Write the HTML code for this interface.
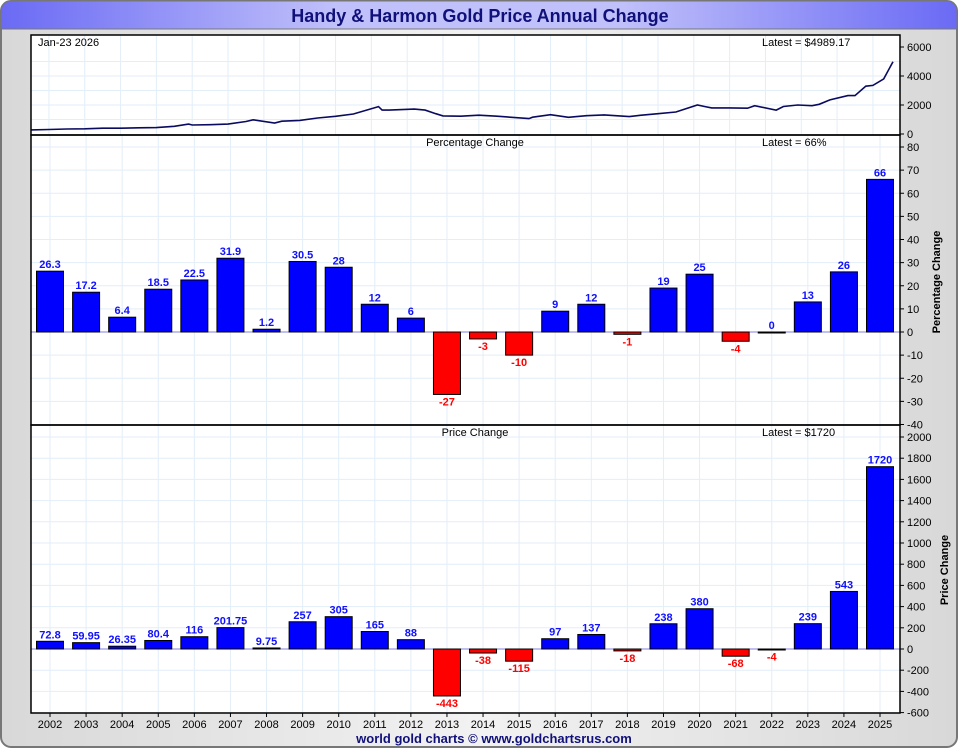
<!DOCTYPE html>
<html><head><meta charset="utf-8"><style>
body{margin:0;width:960px;height:750px;overflow:hidden;background:#fff;font-family:"Liberation Sans",sans-serif}
svg text{font-family:"Liberation Sans",sans-serif}
</style></head><body>
<svg id="c" width="960" height="750" xmlns="http://www.w3.org/2000/svg">
<defs>
<linearGradient id="tg" x1="0" x2="1"><stop offset="0" stop-color="#6a6af5"/><stop offset="0.35" stop-color="#c0c0fa"/><stop offset="0.65" stop-color="#c0c0fa"/><stop offset="1" stop-color="#6a6af5"/></linearGradient>
<linearGradient id="bg" x1="0" x2="1"><stop offset="0" stop-color="#d8d8d8"/><stop offset="0.5" stop-color="#f2f2f2"/><stop offset="1" stop-color="#d8d8d8"/></linearGradient>
</defs>
<rect x="1" y="1" width="956" height="746" rx="10" fill="url(#bg)" stroke="#777" stroke-width="2"/>
<path d="M1,29 V11 A10,10 0 0 1 11,1 H947 A10,10 0 0 1 957,11 V29 Z" fill="url(#tg)" stroke="#777"/>
<text x="480" y="22" text-anchor="middle" font-size="18" font-weight="bold" fill="#10107a">Handy &amp; Harmon Gold Price Annual Change</text>
<rect x="31" y="35" width="869" height="678" fill="#fff"/>
<g id="g"></g>
<text x="494" y="743" text-anchor="middle" font-size="13" font-weight="bold" fill="#10107a">world gold charts © www.goldchartsrus.com</text>
</svg>
<script>
const years=[2002,2003,2004,2005,2006,2007,2008,2009,2010,2011,2012,2013,2014,2015,2016,2017,2018,2019,2020,2021,2022,2023,2024,2025];
const pctChange=[26.3,17.2,6.4,18.5,22.5,31.9,1.2,30.5,28,12,6,-27,-3,-10,9,12,-1,19,25,-4,0,13,26,66];
const pctLabels=["26.3","17.2","6.4","18.5","22.5","31.9","1.2","30.5","28","12","6","-27","-3","-10","9","12","-1","19","25","-4","0","13","26","66"];
const priceChange=[72.8,59.95,26.35,80.4,116,201.75,9.75,257,305,165,88,-443,-38,-115,97,137,-18,238,380,-68,-4,239,543,1720];
const priceLabels=["72.8","59.95","26.35","80.4","116","201.75","9.75","257","305","165","88","-443","-38","-115","97","137","-18","238","380","-68","-4","239","543","1720"];
const priceTime=[2002,2002.5,2003,2003.5,2004,2004.5,2005,2005.5,2006,2006.4,2006.5,2007,2007.5,2008,2008.2,2008.8,2009,2009.5,2010,2010.5,2011,2011.7,2011.8,2012,2012.7,2013,2013.3,2013.5,2014,2014.5,2015,2015.9,2016,2016.5,2017,2017.5,2018,2018.7,2019,2019.5,2020,2020.6,2020.8,2021,2021.5,2022,2022.2,2022.8,2023,2023.4,2023.8,2024,2024.3,2024.8,2025,2025.3,2025.5,2025.8,2026.06];
const priceValue=[280,310,345,360,400,400,425,440,530,680,620,640,680,860,980,760,880,940,1100,1220,1380,1890,1650,1650,1720,1650,1400,1250,1230,1300,1230,1060,1160,1330,1150,1260,1320,1200,1290,1400,1520,2000,1900,1800,1800,1780,1950,1650,1900,2000,1950,2050,2350,2650,2650,3300,3350,3800,4989];
const pctTicks=[80,70,60,50,40,30,20,10,0,-10,-20,-30,-40];
const priceTicks=[2000,1800,1600,1400,1200,1000,800,600,400,200,0,-200,-400,-600];
const topTicks=[6000,4000,2000,0];

const g=document.getElementById('g');
const NS='http://www.w3.org/2000/svg';
function mk(t,a,p){const e=document.createElementNS(NS,t);for(const k in a)e.setAttribute(k,a[k]);(p||g).appendChild(e);return e;}
const L=31,R=900;
const xc=i=>50+i*(830/23);
const xt=t=>L+(t-2002)*(862/24.06);
const yTop=v=>134-v*(87/6000);
const yPct=v=>332-v*(185/80);
const yPrice=v=>649-v*(212/2000);

for(let i=0;i<24;i++){const l=mk('line',{x1:xt(2002.5+i),x2:xt(2002.5+i),y1:35,y2:135,stroke:'#e2eef8'});}
[1000,2000,3000,4000,5000].forEach(v=>{const l=mk('line',{x1:L,x2:R,y1:yTop(v),y2:yTop(v),stroke:'#e2eef8'});});
for(let i=0;i<24;i++){const l=mk('line',{x1:xc(i),x2:xc(i),y1:135,y2:713,stroke:'#e2eef8'});}
pctTicks.forEach(v=>{const l=mk('line',{x1:L,x2:R,y1:yPct(v),y2:yPct(v),stroke:'#e2eef8'});});
priceTicks.forEach(v=>{const l=mk('line',{x1:L,x2:R,y1:yPrice(v),y2:yPrice(v),stroke:'#e2eef8'});});

let d='';priceTime.forEach((t,i)=>{d+=(i?'L':'M')+xt(t).toFixed(1)+','+yTop(priceValue[i]).toFixed(1);});
const pl=mk('path',{d:d,fill:'none',stroke:'#0a0a60','stroke-width':1.6});


[yPct(0),yPrice(0)].forEach(y=>{const l=mk('line',{x1:L,x2:R,y1:y,y2:y,stroke:'#8080e0'});});

function bars(vals,labs,yf,name){
  vals.forEach((v,i)=>{
    const y0=yf(0),y1=yf(v);
    const r=mk('rect',{x:xc(i)-13.5,y:Math.min(y0,y1),width:27,height:Math.max(Math.abs(y1-y0),1),fill:v>=0?'#0000ff':'#ff0000',stroke:'#000','stroke-width':1});
    
    const t=mk('text',{x:xc(i),y:v>=0?y1-3:y1+11,'text-anchor':'middle','font-size':11,'font-weight':'bold',fill:v>=0?'#1010ff':'#ff0000'});
    t.textContent=labs[i];
  });
}
bars(pctChange,pctLabels,yPct,'pct');
bars(priceChange,priceLabels,yPrice,'price');

[[35,135],[135,425],[425,713]].forEach(([a,b])=>{const r=mk('rect',{x:L,y:a,width:R-L,height:b-a,fill:'none',stroke:'#000','stroke-width':1.5});});

function axis(ticks,yf,name){ticks.forEach(v=>{const y=yf(v);
  const l=mk('line',{x1:R,x2:R+4,y1:y,y2:y,stroke:'#000'});
  const t=mk('text',{x:R+7,y:y+4,'font-size':11,fill:'#000'});t.textContent=v;});}
axis(topTicks,yTop,'top-axis');axis(pctTicks,yPct,'pct-axis');axis(priceTicks,yPrice,'price-axis');

years.forEach((yr,i)=>{const l=mk('line',{x1:xc(i),x2:xc(i),y1:713,y2:717,stroke:'#000'});
  const t=mk('text',{x:xc(i),y:728,'text-anchor':'middle','font-size':11,fill:'#000'});t.textContent=yr;});

function txt(s,x,y,sz,name,extra){const t=mk('text',Object.assign({x:x,y:y,'font-size':sz,fill:'#000'},extra||{}));t.textContent=s;return t;}
txt('Jan-23  2026',38,46,11,'date-label',{'xml:space':'preserve'});
txt('Latest = $4989.17',762,46,11,'latest-price-label');
txt('Percentage Change',475,146,11,'pct-panel-title',{'text-anchor':'middle'});
txt('Latest = 66%',762,146,11,'latest-pct-label');
txt('Price Change',475,436,11,'price-panel-title',{'text-anchor':'middle'});
txt('Latest = $1720',762,436,11,'latest-change-label');
txt('Percentage Change',940,282,11,'pct-axis-title',{'text-anchor':'middle','font-weight':'bold',transform:'rotate(-90 940 282)'});
txt('Price Change',948,570,11,'price-axis-title',{'text-anchor':'middle','font-weight':'bold',transform:'rotate(-90 948 570)'});
</script>
</body></html>
